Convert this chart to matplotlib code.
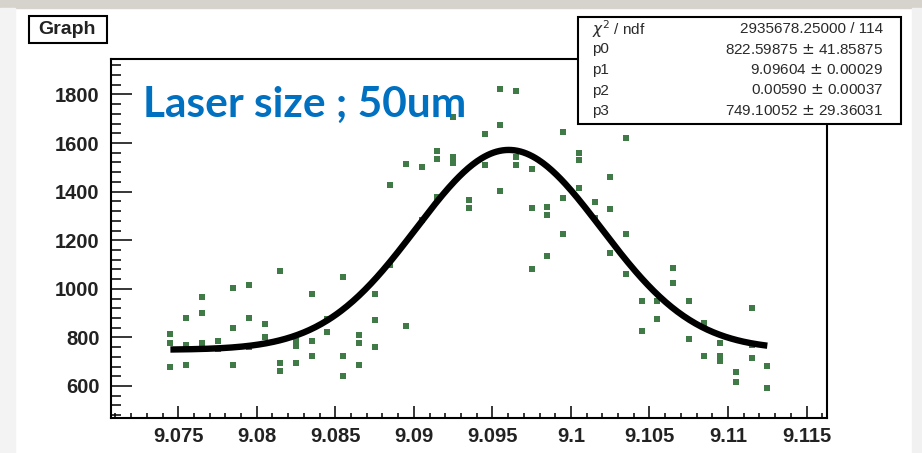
import matplotlib
matplotlib.use("Agg")
import matplotlib.pyplot as plt
import numpy as np
from matplotlib.patches import Rectangle
from matplotlib.ticker import MultipleLocator, FixedLocator

# measured points (x position, counts)
x_pts = [9.0745, 9.0745, 9.0745, 9.0755, 9.0755, 9.0755, 9.0765, 9.0765, 9.0765,
         9.0775, 9.0775, 9.0785, 9.0785, 9.0785, 9.0795, 9.0795, 9.0795,
         9.0805, 9.0805, 9.0815, 9.0815, 9.0815, 9.0825, 9.0825, 9.0825,
         9.0835, 9.0835, 9.0835, 9.0845, 9.0845, 9.0855, 9.0855, 9.0855,
         9.0865, 9.0865, 9.0865, 9.0875, 9.0875, 9.0875, 9.0885, 9.0885,
         9.0895, 9.0895, 9.0905, 9.0905, 9.0915, 9.0915, 9.0915,
         9.0925, 9.0925, 9.0925, 9.0935, 9.0935, 9.0945, 9.0945,
         9.0955, 9.0955, 9.0955, 9.0965, 9.0965, 9.0965,
         9.0975, 9.0975, 9.0975, 9.0985, 9.0985, 9.0985,
         9.0995, 9.0995, 9.0995, 9.1005, 9.1005, 9.1005, 9.1015, 9.1015,
         9.1025, 9.1025, 9.1025, 9.1035, 9.1035, 9.1035, 9.1045, 9.1045,
         9.1055, 9.1055, 9.1065, 9.1065, 9.1075, 9.1075, 9.1085, 9.1085,
         9.1095, 9.1095, 9.1095, 9.1105, 9.1105, 9.1115, 9.1115, 9.1115,
         9.1125, 9.1125]
y_pts = [812, 775, 679, 881, 768, 686, 965, 899, 775,
         786, 752, 1005, 837, 686, 1015, 881, 762,
         855, 800, 1074, 696, 661, 785, 764, 696,
         978, 786, 723, 821, 875, 1049, 723, 642,
         810, 775, 686, 978, 871, 759, 1427, 1099,
         1515, 847, 1502, 1285, 1568, 1533, 1379,
         1708, 1542, 1517, 1365, 1332, 1637, 1509,
         1822, 1673, 1402, 1813, 1542, 1509,
         1495, 1331, 1081, 1337, 1303, 1136,
         1646, 1372, 1224, 1558, 1530, 1417, 1358, 1290,
         1461, 1328, 1146, 1621, 1224, 1063, 951, 827,
         874, 951, 1084, 1022, 951, 793, 858, 723,
         778, 723, 702, 659, 617, 923, 714, 768,
         682, 590]

# fit parameters (gaus + const)
p0, p1, p2, p3 = 822.59875, 9.09604, 0.00590, 749.10052
fit_range = (9.0745, 9.1125)

stat_names = [r"$\chi^{2}$ / ndf", "p0", "p1", "p2", "p3"]
stat_values = ["2935678.25000 / 114", "822.59875 $\\pm$ 41.85875",
               "9.09604 $\\pm$ 0.00029", "0.00590 $\\pm$ 0.00037",
               "749.10052 $\\pm$ 29.36031"]

W, H = 922, 453
fig = plt.figure(figsize=(W / 100, H / 100), dpi=100, facecolor="white")

# canvas borders
fig.patches.append(Rectangle((0, 1 - 8 / H), 1, 8 / H, transform=fig.transFigure,
                             color="#d5d3cc", zorder=0))
fig.patches.append(Rectangle((0, 0), 15 / W, 1 - 8 / H, transform=fig.transFigure,
                             color="#f3f3f3", zorder=0))
fig.patches.append(Rectangle((912 / W, 0), 10 / W, 1 - 8 / H, transform=fig.transFigure,
                             color="#f1f1f1", zorder=0))

ax = fig.add_axes([110.7 / W, 1 - 418.3 / H, (827 - 110.7) / W, (418.3 - 59) / H])
ax.set_xlim(9.0707, 9.1163)
ax.set_ylim(467, 1946)

ax.plot(x_pts, y_pts, ls="none", marker="s", ms=4.1, mew=0, color="#3f7a47", zorder=2)

xf = np.linspace(fit_range[0], fit_range[1], 400)
yf = p0 * np.exp(-0.5 * ((xf - p1) / p2) ** 2) + p3
ax.plot(xf, yf, color="black", lw=4.6, solid_capstyle="butt", zorder=3)

ax.xaxis.set_major_locator(FixedLocator([9.075, 9.08, 9.085, 9.09, 9.095, 9.1, 9.105, 9.11, 9.115]))
ax.set_xticklabels(["9.075", "9.08", "9.085", "9.09", "9.095", "9.1", "9.105", "9.11", "9.115"])
ax.xaxis.set_minor_locator(MultipleLocator(0.001))
ax.yaxis.set_major_locator(MultipleLocator(200))
ax.yaxis.set_minor_locator(MultipleLocator(40))

ax.tick_params(axis="x", which="major", direction="in", length=8.6, width=1.1, pad=6)
ax.tick_params(axis="x", which="minor", direction="in", length=3.6, width=1.1)
ax.tick_params(axis="y", which="major", direction="in", length=15, width=1.1, pad=8)
ax.tick_params(axis="y", which="minor", direction="in", length=7, width=1.1)
for lab in ax.get_xticklabels() + ax.get_yticklabels():
    lab.set_fontsize(14.5)
    lab.set_fontweight("bold")
    lab.set_family("Liberation Sans")
    lab.set_color("#222222")
for sp in ax.spines.values():
    sp.set_linewidth(1.5)

# Graph title box
fig.patches.append(Rectangle((29 / W, 1 - 43 / H), 78 / W, 27 / H, transform=fig.transFigure,
                             facecolor="white", edgecolor="black", lw=1.5, zorder=5))
fig.text(67 / W, 1 - 30 / H, "Graph", ha="center", va="center", fontsize=14,
         fontweight="bold", family="Liberation Sans", color="#222222", zorder=6)

# annotation
fig.text(143 / W, 1 - 117 / H, "Laser size ; 50um", ha="left", va="baseline",
         fontsize=30.5, fontweight="bold", family="Lato", color="#0070c0", zorder=6)

# stats box
fig.patches.append(Rectangle((578 / W, 1 - 124 / H), 323 / W, 107 / H, transform=fig.transFigure,
                             facecolor="white", edgecolor="black", lw=1.5, zorder=5))
for i, (nm, val) in enumerate(zip(stat_names, stat_values)):
    yc = 1 - (29 + 20.5 * i) / H
    fig.text(592 / W, yc, nm, ha="left", va="center", fontsize=11,
             family="Liberation Sans", color="#2a2a2a", zorder=6)
    fig.text(883 / W, yc, val, ha="right", va="center", fontsize=11,
             family="Liberation Sans", color="#2a2a2a", zorder=6)

fig.savefig("out.png", dpi=100)
